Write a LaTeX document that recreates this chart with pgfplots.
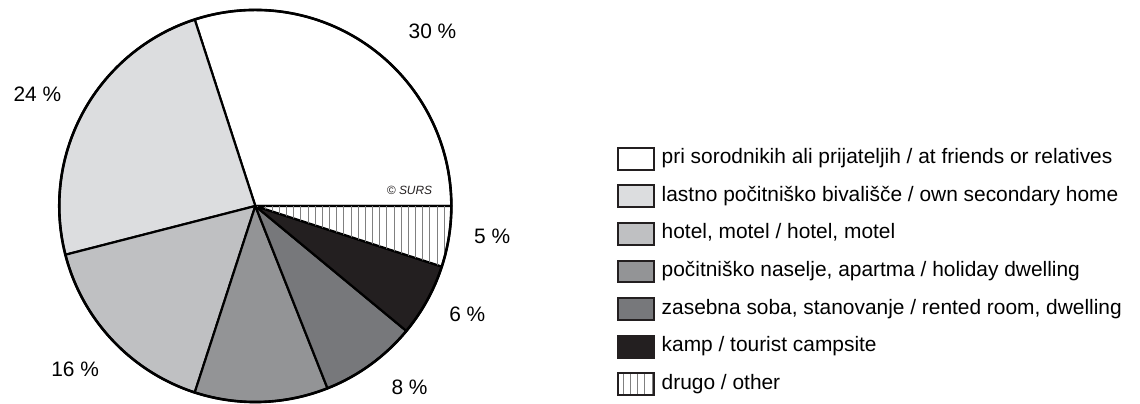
\documentclass[border=0pt]{standalone}
\usepackage{fontspec}
\setmainfont{Liberation Sans}
\usepackage{pgfplots}
\pgfplotsset{compat=1.18}
\usepackage{pgfplotstable}
\usetikzlibrary{patterns.meta}

\definecolor{cOwn}{HTML}{DCDDDF}
\definecolor{cHotel}{HTML}{BFC0C2}
\definecolor{cHoliday}{HTML}{939496}
\definecolor{cRented}{HTML}{77787B}
\definecolor{cCamp}{HTML}{231F20}

% shares in %, label position in px (y measured from the bottom)
\pgfplotstableread{
share lx  ly
30    429 374
24    32  310
16    70  34
11    nan nan
8     406 16
6     464 89
5     489 167
}\shares

\tikzset{
  hatch/.style={pattern={Lines[angle=90,distance=3.6pt,line width=0.45pt]},pattern color=black!50},
  slice0/.style={fill=white},
  slice1/.style={fill=cOwn},
  slice2/.style={fill=cHotel},
  slice3/.style={fill=cHoliday},
  slice4/.style={fill=cRented},
  slice5/.style={fill=cCamp},
  slice6/.style={fill=white,postaction={hatch}},
}

\newcommand\pieR{98.5pt}

\begin{document}
% cumulative angles, counter-clockwise from 0 degrees
\def\angsum{0}
\pgfplotsforeachungrouped \i in {0,...,6}{%
  \pgfplotstablegetelem{\i}{share}\of\shares
  \pgfmathsetmacro\a{\angsum}%
  \pgfmathsetmacro\b{\angsum+3.6*\pgfplotsretval}%
  \expandafter\xdef\csname startA\i\endcsname{\a}%
  \expandafter\xdef\csname endA\i\endcsname{\b}%
  \xdef\angsum{\b}%
}%
\begin{tikzpicture}
\path[use as bounding box] (0,0) rectangle (570pt,202.5pt);
\begin{axis}[
  at={(0,0)}, anchor=south west,
  scale only axis, width=570pt, height=202.5pt,
  xmin=0, xmax=1140, ymin=0, ymax=405,
  hide axis,
  /pgf/number format/assume math mode=true,
  font=\fontsize{10.5}{12}\selectfont,
  legend image code/.code={\draw[line width=1pt,draw=cCamp,#1] (0pt,-5.5pt) rectangle (18pt,5.5pt);},
  legend cell align=left,
  legend style={at={(axis cs:614,258)}, anchor=north west, draw=none, fill=none,
    inner sep=0pt, row sep=6.9pt,
    nodes={inner sep=0pt, text height=8pt, text depth=3pt},
    /tikz/every odd column/.append style={column sep=3.5pt}},
]
\pgfplotsinvokeforeach{0,...,6}{
  \filldraw[slice#1, draw=black, line width=1.1pt, line join=round]
    (axis cs:251,198) -- ++(\csname startA#1\endcsname:\pieR)
    arc[start angle=\csname startA#1\endcsname, end angle=\csname endA#1\endcsname, radius=\pieR] -- cycle;
}
\draw[black, line width=1.3pt] (axis cs:251,198) circle[radius=\pieR];

\addlegendimage{fill=white}
\addlegendimage{fill=cOwn}
\addlegendimage{fill=cHotel}
\addlegendimage{fill=cHoliday}
\addlegendimage{fill=cRented}
\addlegendimage{fill=cCamp}
\addlegendimage{fill=white,postaction={hatch}}
\legend{pri sorodnikih ali prijateljih / at friends or relatives,
  lastno počitniško bivališče / own secondary home,
  {hotel, motel / hotel, motel},
  {počitniško naselje, apartma / holiday dwelling},
  {zasebna soba, stanovanje / rented room, dwelling},
  kamp / tourist campsite,
  drugo / other}

\addplot[forget plot, draw=none, mark=none, point meta=explicit,
  nodes near coords={\pgfmathprintnumber{\pgfplotspointmeta} \%},
  nodes near coords style={anchor=center, text=black, inner sep=0pt}]
  table[x=lx, y=ly, meta=share] {\shares};

\node[font=\itshape\fontsize{6}{7}\selectfont, text=cCamp] at (axis cs:406,214) {© SURS};
\end{axis}
\end{tikzpicture}
\end{document}
